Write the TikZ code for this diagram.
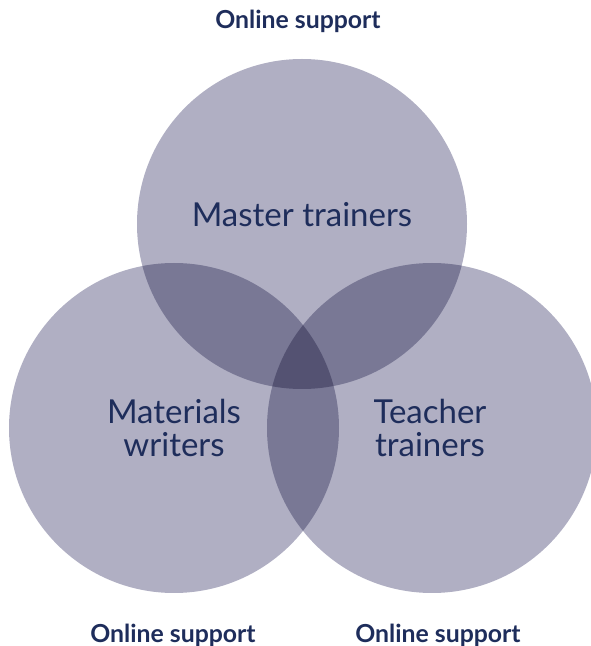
\documentclass[tikz,border=0pt]{standalone}
\usepackage{fontspec}
\setmainfont{Lato}
\definecolor{one}{RGB}{176,175,195}
\definecolor{two}{RGB}{121,120,149}
\definecolor{three}{RGB}{84,82,114}
\definecolor{navy}{RGB}{30,45,91}
\tikzset{
  lbl/.style={text=navy, font=\fontsize{33}{33}\selectfont, anchor=base, inner sep=0pt},
  sup/.style={text=navy, font=\fontsize{24.8}{24.8}\selectfont\bfseries, anchor=base, inner sep=0pt}
}
\begin{document}
\begin{tikzpicture}[x=1pt,y=1pt]
\useasboundingbox (0,0) rectangle (591,646);
\coordinate (T) at (302,422);
\coordinate (L) at (174,218);
\coordinate (R) at (432,218);
\def\rr{165}
% single
\fill[one] (T) circle (\rr);
\fill[one] (L) circle (\rr);
\fill[one] (R) circle (\rr);
% doubles
\begin{scope}
  \clip (T) circle (\rr);
  \fill[two] (L) circle (\rr);
  \fill[two] (R) circle (\rr);
\end{scope}
\begin{scope}
  \clip (L) circle (\rr);
  \fill[two] (R) circle (\rr);
\end{scope}
% triple
\begin{scope}
  \clip (T) circle (\rr);
  \clip (L) circle (\rr);
  \fill[three] (R) circle (\rr);
\end{scope}
% labels
\node[lbl] (mt) at (302,419) {Master trainers};
\node[lbl] (mw1) at (174,222) {Materials};
\node[lbl] (mw2) at (174,189) {writers};
\node[lbl] (tt1) at (430,222) {Teacher};
\node[lbl] (tt2) at (430,189) {trainers};
\node[sup] (os1) at (298,617) {Online support};
\node[sup] (os2) at (173,4) {Online support};
\node[sup] (os3) at (438,4) {Online support};
\end{tikzpicture}
\end{document}
